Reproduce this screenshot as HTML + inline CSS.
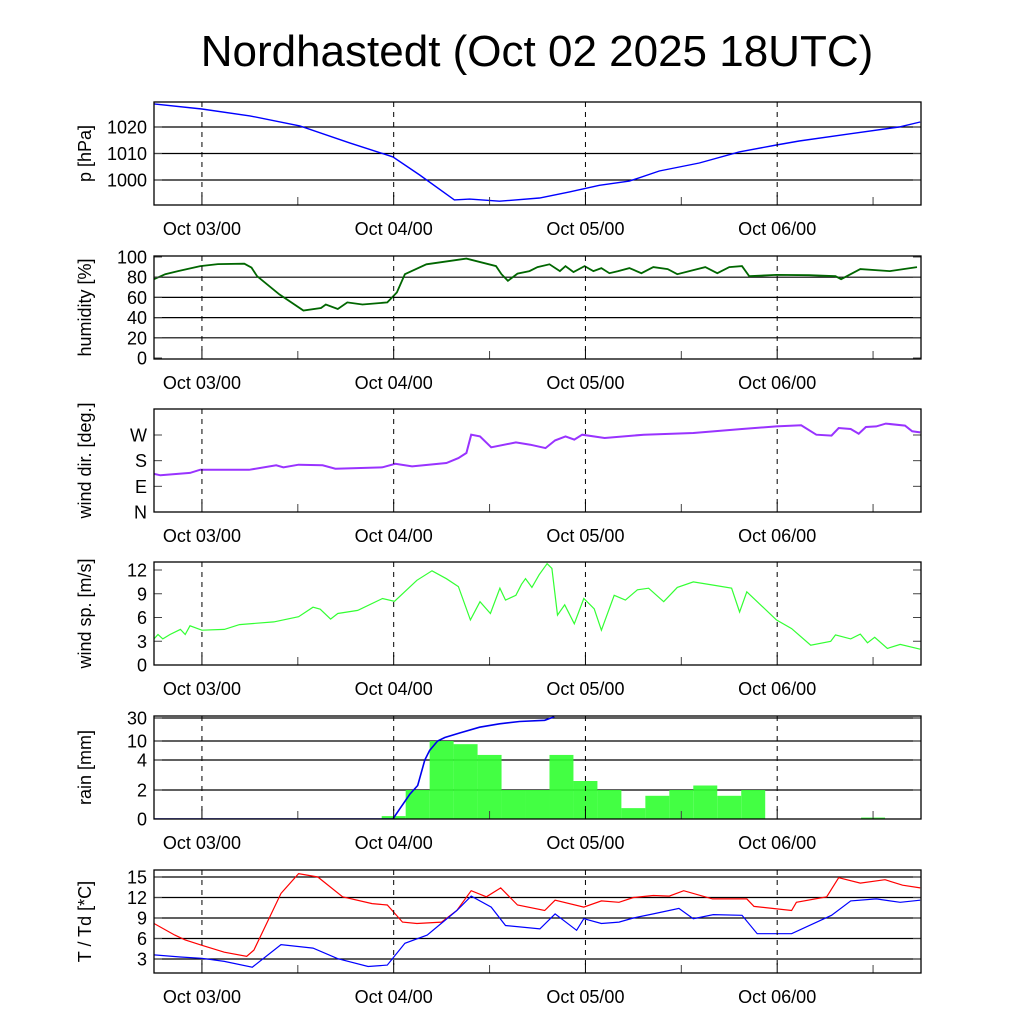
<!DOCTYPE html>
<html><head><meta charset="utf-8">
<style>
html,body{margin:0;padding:0;background:#fff;}
svg{display:block;font-family:"Liberation Sans",Arial,sans-serif;}
</style></head>
<body>
<svg id="chart" width="1024" height="1024" viewBox="0 0 1024 1024">
<text x="537" y="66" font-size="44" text-anchor="middle">Nordhastedt (Oct 02 2025 18UTC)</text>
</svg>
<script>
// ---- data (hours since Oct 02 18UTC) ----
const dayLabels = ["Oct 03/00","Oct 04/00","Oct 05/00","Oct 06/00"];
const dayHours = [6,30,54,78];
const pressHours = [0,6,12,18.25,24.5,29.9,33.25,37.6,39.5,43.25,48.25,52,55.75,59.5,63.25,68.25,73.25,77.9,80.75,87,93.25,95.9];
const pressVals = [1028.7,1026.8,1024.2,1020.4,1014,1008.7,1001.9,992.5,992.8,992,993.2,995.5,998,999.6,1003.4,1006.4,1010.6,1013.2,1014.7,1017.4,1020,1021.9];
const humHours = [0,1.4,3,5.8,8,11.3,12.2,12.9,15.7,18.7,20.9,21.5,23,24.2,26.1,29.2,30.4,31.4,34.1,39.1,42.8,43.5,44.3,45.5,47,48,49.5,50.8,51.5,52.5,53.9,55,56,57,58.1,59.5,61,62.5,64.3,65.5,67.5,69,70.5,72,73.6,74.5,77.9,82,85.3,86,88.4,92.1,95.5];
const humVals = [78,83,86,91,93,93.4,89.5,81,63,47,49.5,53,48.5,55,53,55,65,83,92.8,98.4,91,83,76.4,83.6,86,90,92.8,86,91,85,91,86,89,84,86,89,84,90,88,83,87,90,84,90,91,81,82.3,82,81,78,88,86,90];
const wdHours = [0,0.8,4.5,5.8,7.6,11.9,15.3,16.2,18.1,21.1,22.7,28.6,30.2,32.3,36.6,38.1,39.1,39.7,40.8,42.2,45.3,47.1,49,50.2,51.5,52.6,53.6,56.4,61.3,67.5,73.6,77.9,81,82.9,84.8,85.7,87.2,88.2,89.1,90.4,91.6,94,94.9,95.9];
const wdVals = [134,128.6,137,148.4,148,148,163.6,156.6,166,163.6,152,156.6,169,160,171.8,189,207,271,265,227,244,236,224,251,265,254,271,259.5,271,277,291,300,304,271,268,294.5,291,274.7,298,300,310,303,283,279];
const wsHours = [0,0.5,1.1,2,3.3,3.9,4.5,6,8.8,10.7,15,18.1,19.9,20.8,22.1,23,25.5,28.6,30.1,32.9,34.8,36.6,38.1,39.6,40.8,42.1,43.3,44,45.3,46,46.5,47.3,48.2,49.2,49.8,50.5,51.4,52.6,53.8,55.1,56,57.6,59,60.5,61.9,63.8,65.5,67.5,69.9,72.3,73.3,74.2,77.9,79.8,82.2,84.7,85.3,87.2,88.4,89.3,90.2,91.8,93.4,95.9];
const wsVals = [3.3,3.85,3.3,3.85,4.5,3.85,4.95,4.4,4.5,5.1,5.45,6.1,7.3,7.05,5.8,6.5,6.9,8.4,8.05,10.7,11.9,10.9,9.9,5.7,8,6.5,9.7,8.2,8.8,10.2,10.9,9.8,11.4,12.8,12.2,6.3,7.6,5.2,8.4,7.1,4.4,8.8,8.2,9.5,9.7,8,9.8,10.5,10.1,9.7,6.7,9.25,5.7,4.6,2.5,3,3.8,3.3,3.9,2.8,3.5,2.1,2.6,2];
const rainBinHours = [28.5,31.5,34.5,37.5,40.5,43.5,46.5,49.5,52.5,55.5,58.5,61.5,64.5,67.5,70.5,73.5,88.5];
const rainBinVals = [0.2,2,10,9,5.6,2,2,5.6,2.6,2,0.75,1.6,2,2.3,1.6,2,0.1];
const rainSumHours = [0,29.9,30.75,32,33,33.9,34.5,35.5,36.4,38.25,40.75,43.25,45.75,48.9,50.1];
const rainSumVals = [0,0,0.7,1.7,2.3,4,7,10,13,17,22,25,27,28,31];
const tHours = [0,2.6,3.9,6,8.8,11.6,12.5,15.9,18.1,20.5,23.6,27.3,29.2,31.1,32.9,36,37.9,39.7,41.6,43.4,45.5,48.9,50.2,53.8,56,58.2,60,62.5,64.5,66.3,69.9,74.2,75.1,79.8,80.4,84.2,85.7,88.4,91.5,93.7,95.9];
const tVals = [8.2,6.5,5.8,5,4,3.4,4.3,12.6,15.5,15,12.1,11.1,10.9,8.4,8.2,8.4,10.1,13,12.1,13.4,10.9,10.1,11.6,10.6,11.5,11.3,12,12.3,12.2,13,11.8,11.8,10.7,10.1,11.3,12.1,14.9,14.1,14.6,13.8,13.4];
const tdHours = [0,3.3,6,8.8,12.3,15.9,19.9,23,26.8,29.2,31.4,34.2,37.9,39.7,42.2,44,48.3,50.2,52.9,53.8,56,58.2,60,62.5,65.7,67.5,70,73.6,75.5,79.8,84.8,87.2,90.4,93.4,95.9];
const tdVals = [3.6,3.3,3.1,2.65,1.8,5.1,4.6,3.05,1.9,2.1,5.3,6.5,10.1,12.2,10.6,7.9,7.4,9.6,7.2,8.9,8.2,8.4,9,9.6,10.4,8.9,9.5,9.4,6.7,6.7,9.4,11.5,11.8,11.3,11.6];
const pTicks = [1000,1010,1020];
const hTicks = [0,20,40,60,80,100];
const wdTicks = [0,90,180,270];
const wdTickLabels = ["N","E","S","W"];
const wsTicks = [0,3,6,9,12];
const rainTicks = [0,2,4,10,30];
const tTicks = [3,6,9,12,15];

// ---- layout ----
const NS="http://www.w3.org/2000/svg";
const svg=document.getElementById('chart');
const X0=154,X1=921;
function xs(h){return X0+h*(X1-X0)/96;}
function mk(tag,attrs,parent){const e=document.createElementNS(NS,tag);for(const k in attrs)e.setAttribute(k,attrs[k]);(parent||svg).appendChild(e);return e;}
function linScale(v0,y0,v1,y1){return v=>y0+(v-v0)*(y1-y0)/(v1-v0);}
const rainTickPos=[819,790,760,741,718];
function rainY(v){for(let i=1;i<rainTicks.length;i++){if(v<=rainTicks[i]){const a=rainTicks[i-1],b=rainTicks[i];return rainTickPos[i-1]+(v-a)*(rainTickPos[i]-rainTickPos[i-1])/(b-a);}}return rainTickPos[rainTickPos.length-1]-(v-30)*1.25;}

const panels=[
 {name:'pressure',top:102,title:'p [hPa]',y:linScale(1020,127,1000,180),ticks:pTicks,labels:pTicks.map(String),grid:pTicks},
 {name:'humidity',top:256,title:'humidity [%]',y:linScale(0,358,100,257),ticks:hTicks,labels:hTicks.map(String),grid:[20,40,60,80]},
 {name:'wind-direction',top:409,title:'wind dir. [deg.]',y:linScale(0,512,270,435),ticks:wdTicks,labels:wdTickLabels,grid:[]},
 {name:'wind-speed',top:562,title:'wind sp. [m/s]',y:linScale(0,665,12,570),ticks:wsTicks,labels:wsTicks.map(String),grid:[]},
 {name:'rain',top:716,title:'rain [mm]',y:rainY,ticks:rainTicks,labels:rainTicks.map(String),grid:[2,4,10,30]},
 {name:'temperature',top:870,title:'T / Td [*C]',y:linScale(3,959,15,877),ticks:tTicks,labels:tTicks.map(String),grid:tTicks}
];
const H=103;

function linePath(hours,vals,y){return hours.map((h,i)=>(i?'L':'M')+xs(h).toFixed(1)+' '+y(vals[i]).toFixed(1)).join(' ');}

panels.forEach((p,pi)=>{
  const g=mk('g',{});
  
  
  const bot=p.top+H;
  const cid='clip'+pi;
  const cp=mk('clipPath',{id:cid},g);mk('rect',{x:X0,y:p.top,width:X1-X0,height:H},cp);
  p.grid.forEach(v=>{
    const l=mk('line',{x1:X0,x2:X1,y1:p.y(v),y2:p.y(v),stroke:'#000','stroke-width':1.2},g);
    
    
  });
  const cg=mk('g',{'clip-path':'url(#'+cid+')'},g);
  if(p.name==='rain'){
    rainBinHours.forEach((h,i)=>{
      const yv=rainY(rainBinVals[i]);
      const r=mk('rect',{x:xs(h),y:yv,width:xs(h+3)-xs(h),height:bot-yv,fill:'#33ff33','fill-opacity':0.92},cg);
      
      
    });
    const l=mk('path',{d:linePath(rainSumHours,rainSumVals,rainY),fill:'none',stroke:'#0000ee','stroke-width':1.6},cg);
    
    
  } else if(p.name==='temperature'){
    const a=mk('path',{d:linePath(tHours,tVals,p.y),fill:'none',stroke:'#ff0000','stroke-width':1.2},cg);
    
    
    const b=mk('path',{d:linePath(tdHours,tdVals,p.y),fill:'none',stroke:'#0000ff','stroke-width':1.2},cg);
    
    
  } else {
    const d={pressure:[pressHours,pressVals,'#0000ff',1.4],humidity:[humHours,humVals,'#006600',1.8],'wind-direction':[wdHours,wdVals,'#9933ff',2],'wind-speed':[wsHours,wsVals,'#33ff33',1.2]}[p.name];
    const l=mk('path',{d:linePath(d[0],d[1],p.y),fill:'none',stroke:d[2],'stroke-width':d[3]},cg);
    
    
  }
  dayHours.forEach((h,i)=>{
    mk('line',{x1:xs(h),x2:xs(h),y1:p.top,y2:bot-8,stroke:'#000','stroke-width':1,'stroke-dasharray':'5,5'},g);
    mk('line',{x1:xs(h),x2:xs(h),y1:bot-10,y2:bot,stroke:'#000','stroke-width':1},g);
    mk('line',{x1:xs(h+12),x2:xs(h+12),y1:bot-8,y2:bot,stroke:'#444','stroke-width':1},g);
    const t=mk('text',{x:xs(h),y:bot+30,'font-size':18,'text-anchor':'middle'},g);
    t.textContent=dayLabels[i];
    
    
  });
  p.ticks.forEach((v,i)=>{
    const yy=p.y(v);
    mk('line',{x1:X0,x2:X0+8,y1:yy,y2:yy,stroke:'#444'},g);
    mk('line',{x1:X1-8,x2:X1,y1:yy,y2:yy,stroke:'#444'},g);
    const t=mk('text',{x:147,y:yy+6.5,'font-size':18,'text-anchor':'end'},g);
    t.textContent=p.labels[i];
    
    
  });
  const f=mk('rect',{x:X0,y:p.top,width:X1-X0,height:H,fill:'none',stroke:'#000','stroke-width':1.3},g);
  
  
  const yt=mk('text',{x:0,y:0,'font-size':18,'text-anchor':'middle',transform:'translate(91,'+(p.top+H/2)+') rotate(-90)'},g);
  yt.textContent=p.title;
  
  
});
</script>
</body></html>
